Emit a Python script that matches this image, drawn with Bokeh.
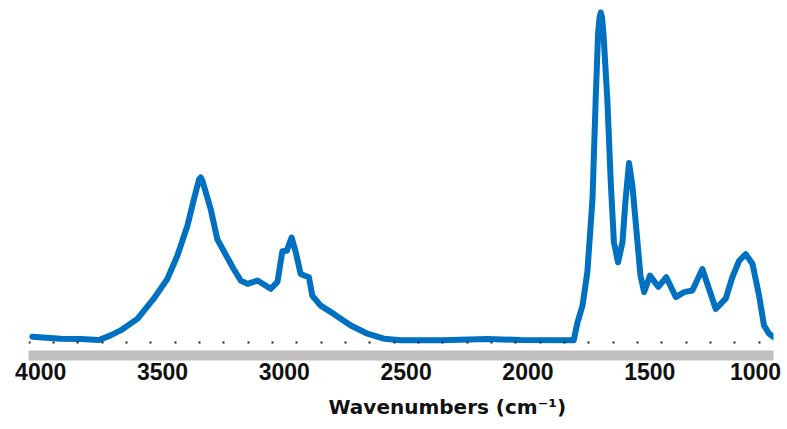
import numpy as np
from bokeh.plotting import figure
from bokeh.models import Range1d, Span, Title, FixedTicker
from bokeh.embed import file_html
from bokeh.resources import INLINE

# IR spectrum (wavenumber in cm-1, relative absorbance)
wavenumber = [4034, 3918, 3836, 3760, 3713, 3672, 3603, 3536, 3480, 3439, 3398, 3371,
              3350, 3343, 3336, 3302, 3275, 3208, 3179, 3151, 3110, 3056, 3028,
              3008, 2990, 2970, 2953, 2933, 2899, 2885, 2851, 2797, 2727, 2659,
              2591, 2522, 2358, 2165, 2030, 1812, 1797, 1776, 1756, 1735, 1722,
              1712, 1706, 1701, 1696, 1690, 1674, 1660, 1647, 1630, 1612, 1599,
              1585, 1571, 1554, 1538, 1523, 1499, 1465, 1432, 1393, 1359, 1325,
              1284, 1257, 1229, 1188, 1161, 1133, 1106, 1078, 1051, 1031, 1010, 993]
absorbance = [0.018, 0.012, 0.011, 0.008, 0.022, 0.037, 0.072, 0.133, 0.193, 0.263, 0.353, 0.434,
              0.494, 0.500, 0.490, 0.404, 0.313, 0.223, 0.188, 0.178, 0.188, 0.163, 0.184,
              0.277, 0.278, 0.318, 0.274, 0.208, 0.198, 0.142, 0.112, 0.087, 0.052, 0.027,
              0.012, 0.007, 0.007, 0.011, 0.008, 0.007, 0.060, 0.112, 0.214, 0.434, 0.735,
              0.937, 0.985, 1.000, 0.985, 0.937, 0.735, 0.485, 0.304, 0.243, 0.304, 0.434,
              0.544, 0.474, 0.334, 0.203, 0.153, 0.203, 0.169, 0.198, 0.138, 0.153, 0.158,
              0.223, 0.163, 0.102, 0.133, 0.198, 0.248, 0.268, 0.238, 0.142, 0.052, 0.027, 0.017]
# tick labels; the last one ("1000") sits nudged inward in the reference so it fits the page
tick_positions = [4000, 3500, 3000, 2500, 2000, 1500, 1066]
tick_labels = ["4000", "3500", "3000", "2500", "2000", "1500", "1000"]
x_title = "Wavenumbers (cm\u207b\u00b9)"

p = figure(width=787, height=429, output_backend="svg", toolbar_location=None,
           x_range=Range1d(4050, 992), y_range=Range1d(-0.039, 1.012),
           y_axis_location=None,
           min_border_left=28, min_border_right=14, min_border_top=8, min_border_bottom=72)
p.grid.visible = False
p.outline_line_color = None
p.background_fill_color = "white"
p.border_fill_color = "white"

p.add_layout(Span(location=0, dimension="width", line_color="#202020", line_width=2,
                  line_dash="2 22 2 22 2 23"))

p.line(wavenumber, absorbance, line_color="#0070C0", line_width=6,
       line_join="round", line_cap="round")

ax = p.xaxis[0]
ax.ticker = FixedTicker(ticks=tick_positions)
ax.major_label_overrides = {k: v for k, v in zip(tick_positions, tick_labels)}
ax.axis_line_color = "#BFBFBF"
ax.axis_line_width = 10
ax.major_tick_line_color = None
ax.minor_tick_line_color = None
ax.major_label_standoff = 1
ax.major_label_text_font = "Liberation Sans"
ax.major_label_text_font_style = "bold"
ax.major_label_text_font_size = "23px"
ax.major_label_text_color = "#111111"

p.add_layout(Title(text=x_title, align="left", offset=300, standoff=21,
                   text_font="DejaVu Sans", text_font_style="bold",
                   text_font_size="20px", text_color="#111111"), "below")

open("out.html", "w").write(file_html(p, INLINE))
